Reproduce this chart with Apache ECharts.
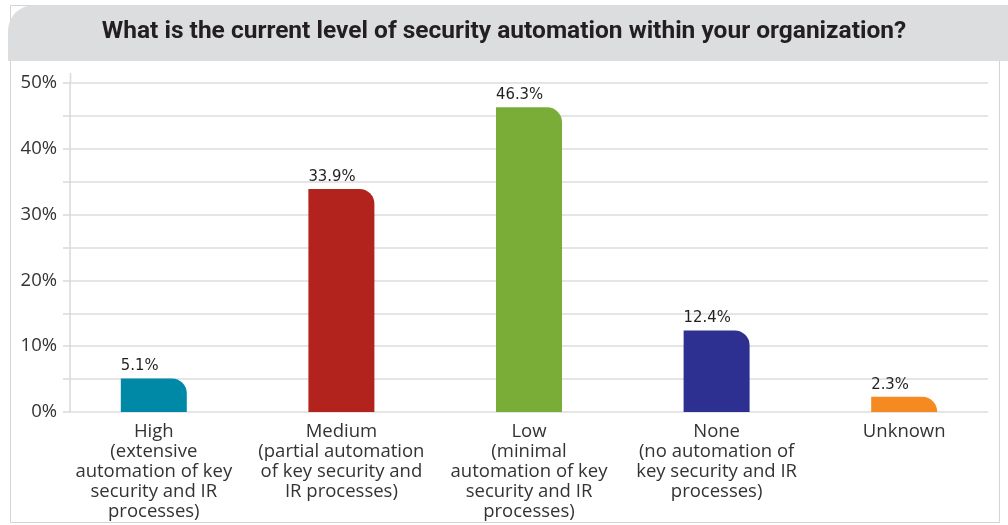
<!DOCTYPE html>
<html><head><meta charset="utf-8">
<script src="https://cdn.jsdelivr.net/npm/echarts@6/dist/echarts.min.js"></script>
<style>html,body{margin:0;padding:0;background:#fff}#c{width:1008px;height:525px}</style>
</head><body><div id="c"></div>
<script>
const titleText = 'What is the current level of security automation within your organization?';
const categories = [
  'High\n(extensive\nautomation of key\nsecurity and IR\nprocesses)',
  'Medium\n(partial automation\nof key security and\nIR processes)',
  'Low\n(minimal\nautomation of key\nsecurity and IR\nprocesses)',
  'None\n(no automation of\nkey security and IR\nprocesses)',
  'Unknown'
];
const values = [5.1, 33.9, 46.3, 12.4, 2.3];
const barColors = ['#0089a7', '#b3231e', '#7aad37', '#2d3091', '#f58a23'];
const yTicks = [0, 10, 20, 30, 40, 50];

const chart = echarts.init(document.getElementById('c'), null, {renderer: 'canvas'});
const labelFont = 'DejaVu Sans Condensed, Roboto, sans-serif';
const axisFont = 'Open Sans, Noto Sans, sans-serif';
chart.setOption({
  animation: false,
  graphic: [
    {type: 'rect', z: -10, shape: {x: 10.5, y: 5.5, width: 989, height: 517}, style: {fill: '#fff', stroke: '#d4d4d4', lineWidth: 1}},
    {type: 'rect', z: -5, shape: {x: 8, y: 5, width: 1000, height: 56, r: [26, 0, 0, 0]}, style: {fill: '#dcddde'}},
    {type: 'text', z: 10, left: 'center', top: 19, style: {text: titleText, font: 'bold 24.5px Roboto, sans-serif', fill: '#231f20'}},
    {type: 'line', shape: {x1: 70.5, y1: 73, x2: 70.5, y2: 83}, style: {stroke: '#d9d9d9', lineWidth: 1.5}}
  ],
  grid: [
    {left: 70, right: 20, top: 83, bottom: 113},
    {left: 60, right: 10, top: 83, bottom: 113}
  ],
  xAxis: [
    {type: 'category', gridIndex: 0, data: categories, axisLine: {show: false}, axisTick: {show: false}, axisLabel: {show: false}},
    {type: 'category', gridIndex: 1, data: categories, axisLine: {show: false}, axisTick: {show: false},
     axisLabel: {interval: 0, margin: 10, color: '#333', fontSize: 18.5, lineHeight: 20, fontFamily: axisFont}}
  ],
  yAxis: [
    {type: 'value', gridIndex: 0, min: 0, max: 50, interval: 5,
     axisLine: {show: true, lineStyle: {color: '#d9d9d9', width: 1.5}},
     axisTick: {show: true, length: 7, lineStyle: {color: '#d9d9d9', width: 1.5}},
     splitLine: {lineStyle: {color: '#dcdcdc', width: 1.5}},
     axisLabel: {margin: 13, color: '#333', fontSize: 18.5, fontFamily: axisFont,
       formatter: v => yTicks.includes(v) ? v + '%' : ''}},
    {type: 'value', gridIndex: 1, min: 0, max: 50, interval: 5, show: false, splitLine: {show: false}}
  ],
  series: [{
    type: 'bar', xAxisIndex: 1, yAxisIndex: 1, barWidth: 66,
    data: values.map((v, i) => ({value: v, itemStyle: {color: barColors[i]}})),
    itemStyle: {borderRadius: [0, 15, 0, 0]},
    label: {show: true, position: [0, -4], align: 'left', verticalAlign: 'bottom',
      formatter: p => p.value.toFixed(1) + '%', color: '#231f20', fontSize: 16.5, fontFamily: labelFont}
  }]
});
</script></body></html>
